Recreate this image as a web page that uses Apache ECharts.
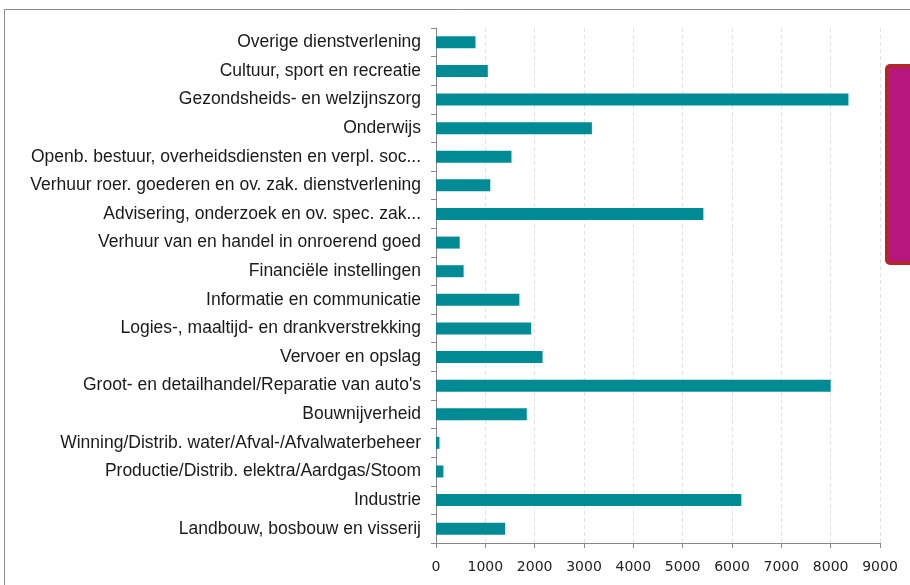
<!DOCTYPE html>
<html>
<head>
<meta charset="utf-8">
<script src="https://cdn.jsdelivr.net/npm/echarts@6/dist/echarts.min.js"></script>
<style>
	html, body {
		margin: 0;
		padding: 0;
		background: #ffffff;
	}
	#chart {
		width: 910px;
		height: 585px;
	}
</style>
</head>
<body>
<div id="chart"></div>
<script>
	// categorieën van onder naar boven (zoals ECharts ze op de y-as zet)
	var categories = [
		"Landbouw, bosbouw en visserij",
		"Industrie",
		"Productie/Distrib. elektra/Aardgas/Stoom",
		"Winning/Distrib. water/Afval-/Afvalwaterbeheer",
		"Bouwnijverheid",
		"Groot- en detailhandel/Reparatie van auto's",
		"Vervoer en opslag",
		"Logies-, maaltijd- en drankverstrekking",
		"Informatie en communicatie",
		"Financiële instellingen",
		"Verhuur van en handel in onroerend goed",
		"Advisering, onderzoek en ov. spec. zak...",
		"Verhuur roer. goederen en ov. zak. dienstverlening",
		"Openb. bestuur, overheidsdiensten en verpl. soc...",
		"Onderwijs",
		"Gezondsheids- en welzijnszorg",
		"Cultuur, sport en recreatie",
		"Overige dienstverlening"
	];
	var values = [1400, 6190, 150, 70, 1840, 8000, 2160, 1930, 1690, 560, 480, 5420, 1100, 1530, 3160, 8360, 1050, 800];
	var xTicks = [0, 1000, 2000, 3000, 4000, 5000, 6000, 7000, 8000, 9000];

	var myChart = echarts.init(document.getElementById('chart'));
	var option = {
		animation: false,
		grid: {
			left: 436,
			right: 30,
			top: 28,
			bottom: 42
		},
		xAxis: {
			type: 'value',
			min: xTicks[0],
			max: xTicks[xTicks.length - 1],
			interval: 1000,
			axisLine: {
				show: true,
				lineStyle: { color: '#888888', width: 1 }
			},
			axisTick: {
				show: true,
				length: 5,
				lineStyle: { color: '#888888' }
			},
			axisLabel: {
				color: '#222222',
				fontFamily: 'DejaVu Sans',
				fontSize: 14,
				margin: 17,
				formatter: function (v) {
					return String(v);
				}
			},
			splitLine: {
				show: true,
				lineStyle: { color: '#e2e2e2', type: [4, 3] }
			}
		},
		yAxis: {
			type: 'category',
			data: categories,
			axisLine: {
				show: true,
				lineStyle: { color: '#888888', width: 1 }
			},
			axisTick: {
				show: true,
				length: 5,
				alignWithLabel: false,
				lineStyle: { color: '#888888' }
			},
			axisLabel: {
				color: '#1a1a1a',
				fontFamily: 'Liberation Sans',
				fontSize: 17.5,
				margin: 15
			}
		},
		series: [{
			type: 'bar',
			data: values,
			barWidth: 12,
			itemStyle: {
				color: '#008b94'
			}
		}],
		graphic: [
			{
				// kader rond de grafiek
				type: 'rect',
				shape: { x: 4.5, y: 9.5, width: 920, height: 600 },
				style: { fill: 'none', stroke: '#8c8c8c', lineWidth: 1 },
				silent: true
			},
			{
				// afgesneden legendavak rechts
				type: 'rect',
				shape: { x: 887, y: 66, width: 60, height: 197, r: 3 },
				style: { fill: '#b5177f', stroke: '#b3262f', lineWidth: 4 },
				silent: true
			}
		]
	};
	myChart && myChart.setOption(option);
</script>
</body>
</html>
